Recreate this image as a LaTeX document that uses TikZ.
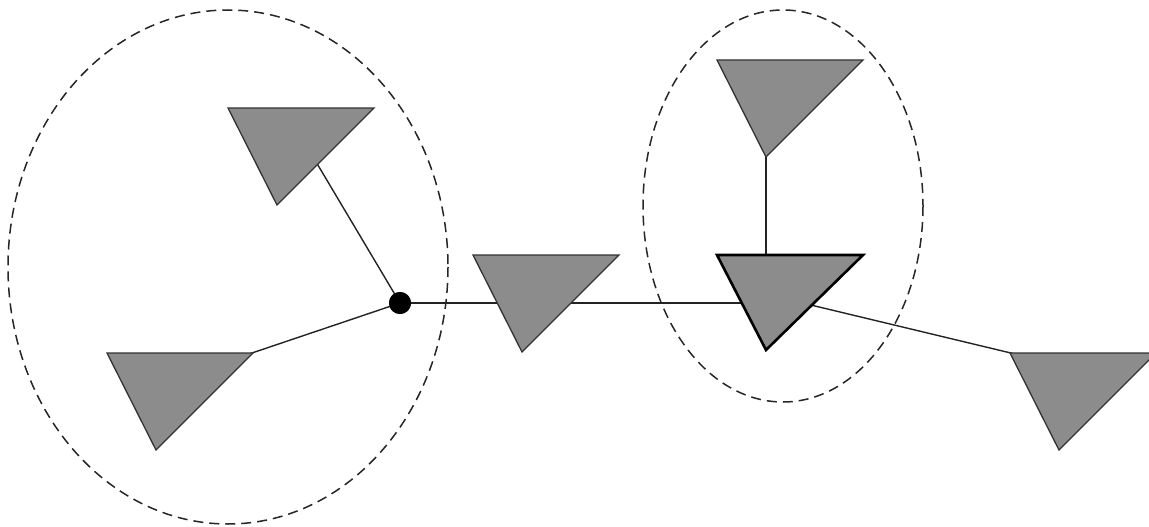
\documentclass[tikz,border=0pt]{standalone}
\definecolor{trigray}{RGB}{140,140,140}
\definecolor{triedge}{RGB}{50,50,50}
\definecolor{linecol}{RGB}{35,35,35}
\tikzset{
  tri/.pic={\path[fill=trigray,draw=triedge,line width=1.3pt,line join=miter] (0,0) -- (146,0) -- (49,97) -- cycle;},
  trithick/.pic={\path[fill=trigray,draw=black,line width=2.6pt,line join=miter] (0,0) -- (146,0) -- (49,95) -- cycle;},
  conn/.style={draw=linecol,line width=1.4pt},
  group/.style={draw=black!85,line width=1.5pt,dash pattern=on 10pt off 6pt},
  hub/.style={circle,fill=black,inner sep=0pt,minimum size=22pt}
}
\begin{document}
\begin{tikzpicture}[x=1pt,y=-1pt]
\useasboundingbox (0,0) rectangle (1149,527);
% connection points inside the triangles
\coordinate (t1c) at (303,140);
\coordinate (t2c) at (172,380);
\coordinate (t4c) at (766,140);
\coordinate (t5c) at (766,280);
\coordinate (t5h) at (790,303);
\coordinate (t5s) at (790,300);
\coordinate (t6c) at (1040,360);
\node[hub] (hub) at (400,303) {};
% connectors
\draw[conn] (hub.center) -- (t1c);
\draw[conn] (hub.center) -- (t2c);
\draw[conn] (hub.center) -- (t5h);
\draw[conn] (t4c) -- (t5c);
\draw[conn] (t5s) -- (t6c);
% triangles
\pic (t1) at (228,108) {tri};
\pic (t2) at (107,353) {tri};
\pic (t3) at (473,255) {tri};
\pic (t4) at (717,60) {tri};
\pic (t5) at (717,255) {trithick};
\pic (t6) at (1010,353) {tri};
\node[hub] (hubtop) at (400,303) {};
% groups
\draw[group] (228,267) ellipse [x radius=220, y radius=257];
\draw[group] (783,206) ellipse [x radius=140, y radius=196];
\end{tikzpicture}
\end{document}
